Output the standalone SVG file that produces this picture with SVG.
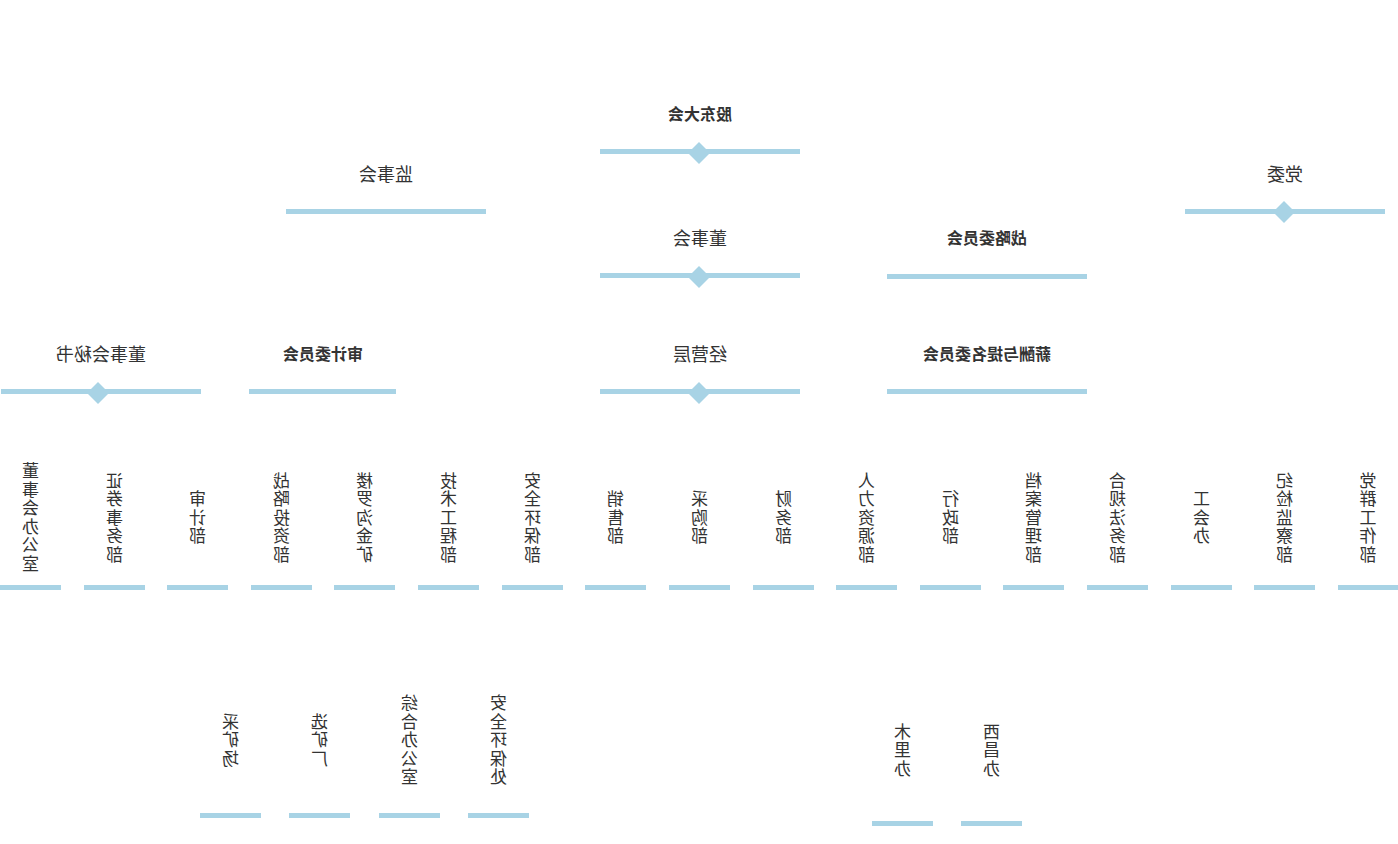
<svg xmlns="http://www.w3.org/2000/svg" width="1398" height="844" viewBox="0 0 1398 844">
<style>
.bg{fill:#ffffff}
.bar{fill:#a8d3e5}
.dia{fill:#a8d3e5}
.lb{font-family:"Noto Sans CJK SC","Liberation Sans",sans-serif;font-size:16px;font-weight:bold;fill:#333333;text-anchor:middle;dominant-baseline:central}
.lr{font-family:"Noto Sans CJK SC","Liberation Sans",sans-serif;font-size:18px;fill:#333333;text-anchor:middle;dominant-baseline:central}
.v{font-family:"Noto Sans CJK SC","Liberation Sans",sans-serif;font-size:17px;fill:#333333;text-anchor:middle;writing-mode:vertical-rl;letter-spacing:1.5px}
</style>
<rect class="bg" x="0" y="0" width="1398" height="844"/>
<g id="diagram" transform="matrix(-1,0,0,1,1398,0)">
<g id="connectors"/>
<g id="n-gudong"><text class="lb" x="698" y="113">股东大会</text><rect class="bar" x="598" y="149" width="200" height="5"/><polygon class="dia" points="699,142 710,153 699,164 688,153"/></g>
<g id="n-jianshi"><text class="lr" x="1012" y="173">监事会</text><rect class="bar" x="912" y="209" width="200" height="5"/></g>
<g id="n-dangwei"><text class="lr" x="113" y="173">党委</text><rect class="bar" x="13" y="209" width="200" height="5"/><polygon class="dia" points="114,201 125,212 114,223 103,212"/></g>
<g id="n-dongshi"><text class="lr" x="698" y="237">董事会</text><rect class="bar" x="598" y="273" width="200" height="5"/><polygon class="dia" points="699,266 710,277 699,288 688,277"/></g>
<g id="n-zhanlue"><text class="lb" x="411" y="237">战略委员会</text><rect class="bar" x="311" y="274" width="200" height="5"/></g>
<g id="n-mishu"><text class="lr" x="1297" y="353">董事会秘书</text><rect class="bar" x="1197" y="389" width="200" height="5"/><polygon class="dia" points="1300,382 1311,393 1300,404 1289,393"/></g>
<g id="n-shenji"><text class="lb" x="1075" y="353">审计委员会</text><rect class="bar" x="1002" y="389" width="147" height="5"/></g>
<g id="n-jingying"><text class="lr" x="698" y="353">经营层</text><rect class="bar" x="598" y="389" width="200" height="5"/><polygon class="dia" points="699,382 710,393 699,404 688,393"/></g>
<g id="n-xinchou"><text class="lb" x="411" y="353">薪酬与提名委员会</text><rect class="bar" x="311" y="389" width="200" height="5"/></g>

<g id="d1"><text class="v" x="1367.5" y="518">董事会办公室</text><rect class="bar" x="1337" y="585" width="61" height="5"/></g>
<g id="d2"><text class="v" x="1283.5" y="518">证券事务部</text><rect class="bar" x="1253" y="585" width="61" height="5"/></g>
<g id="d3"><text class="v" x="1200.5" y="518">审计部</text><rect class="bar" x="1170" y="585" width="61" height="5"/></g>
<g id="d4"><text class="v" x="1116.5" y="518">战略投资部</text><rect class="bar" x="1086" y="585" width="61" height="5"/></g>
<g id="d5"><text class="v" x="1033.5" y="518">楼罗沟金矿</text><rect class="bar" x="1003" y="585" width="61" height="5"/></g>
<g id="d6"><text class="v" x="949.5" y="518">技术工程部</text><rect class="bar" x="919" y="585" width="61" height="5"/></g>
<g id="d7"><text class="v" x="865.5" y="518">安全环保部</text><rect class="bar" x="835" y="585" width="61" height="5"/></g>
<g id="d8"><text class="v" x="782.5" y="518">销售部</text><rect class="bar" x="752" y="585" width="61" height="5"/></g>
<g id="d9"><text class="v" x="698.5" y="518">采购部</text><rect class="bar" x="668" y="585" width="61" height="5"/></g>
<g id="d10"><text class="v" x="614.5" y="518">财务部</text><rect class="bar" x="584" y="585" width="61" height="5"/></g>
<g id="d11"><text class="v" x="531.5" y="518">人力资源部</text><rect class="bar" x="501" y="585" width="61" height="5"/></g>
<g id="d12"><text class="v" x="447.5" y="518">行政部</text><rect class="bar" x="417" y="585" width="61" height="5"/></g>
<g id="d13"><text class="v" x="364.5" y="518">档案管理部</text><rect class="bar" x="334" y="585" width="61" height="5"/></g>
<g id="d14"><text class="v" x="280.5" y="518">合规法务部</text><rect class="bar" x="250" y="585" width="61" height="5"/></g>
<g id="d15"><text class="v" x="196.5" y="518">工会办</text><rect class="bar" x="166" y="585" width="61" height="5"/></g>
<g id="d16"><text class="v" x="113.5" y="518">纪检监察部</text><rect class="bar" x="83" y="585" width="61" height="5"/></g>
<g id="d17"><text class="v" x="30" y="518">党群工作部</text><rect class="bar" x="0" y="585" width="60" height="5"/></g>

<g id="s1"><text class="v" x="1167.5" y="740.5">采矿场</text><rect class="bar" x="1137" y="813" width="61" height="5"/></g>
<g id="s2"><text class="v" x="1078.5" y="740.5">选矿厂</text><rect class="bar" x="1048" y="813" width="61" height="5"/></g>
<g id="s3"><text class="v" x="988.5" y="740.5">综合办公室</text><rect class="bar" x="958" y="813" width="61" height="5"/></g>
<g id="s4"><text class="v" x="899.5" y="740.5">安全环保处</text><rect class="bar" x="869" y="813" width="61" height="5"/></g>
<g id="s5"><text class="v" x="495.5" y="750.5">木里办</text><rect class="bar" x="465" y="821" width="61" height="5"/></g>
<g id="s6"><text class="v" x="406.5" y="750.5">西昌办</text><rect class="bar" x="376" y="821" width="61" height="5"/></g>
</g>
</svg>
